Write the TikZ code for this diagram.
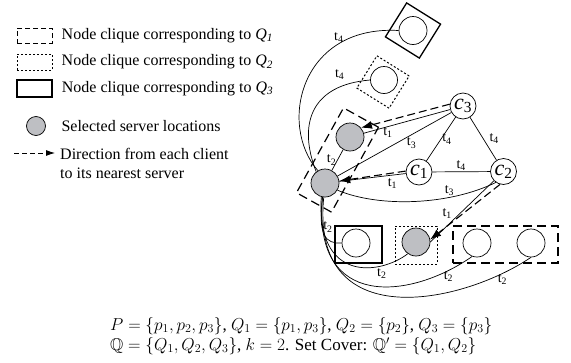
\documentclass[tikz,border=0pt]{standalone}
\usepackage{amsmath,amssymb}
\usepackage{fontspec}
\setmainfont{Liberation Serif}
\usetikzlibrary{positioning,arrows.meta,calc}
\definecolor{srvgray}{RGB}{190,191,195}
\tikzset{
    client/.style={circle, draw, line width=0.7pt, minimum size=26pt, inner sep=0pt, font=\fontsize{22}{22}\selectfont},
    spot/.style={circle, draw, line width=0.7pt, minimum size=28pt, inner sep=0pt},
    server/.style={spot, fill=srvgray},
    qone/.style={draw, line width=1.2pt, dash pattern=on 9pt off 5pt, inner sep=0pt},
    qtwo/.style={draw, line width=1pt, dash pattern=on 2pt off 2pt, inner sep=0pt},
    qthree/.style={draw, line width=1.3pt, inner sep=0pt},
    link/.style={line width=0.7pt},
    dirline/.style={line width=1.1pt, dash pattern=on 8pt off 4pt, -{Latex[length=11pt,width=8pt]}},
    lbl/.style={font=\fontsize{14}{14}\selectfont, inner sep=1pt},
    legtext/.style={font=\fontsize{16}{19}\selectfont, inner sep=0pt},
}

\begin{document}
\begin{tikzpicture}
        [x=1pt, y=1pt, node distance=9pt]

        \useasboundingbox (0,0) rectangle (571,-362);

        \node[qone, minimum width=35pt, minimum height=15pt, line width=1pt, dash pattern=on 5pt off 3pt] (lq1) at (34.5,-35.5) {};
        \node[legtext, right=of lq1] (tq1txt) {Node clique corresponding to \textit{Q}\textsubscript{\textit{1}}};
        \node[qtwo, minimum width=35pt, minimum height=16pt] (lq2) at (34.5,-62) {};
        \node[legtext, right=of lq2] (tq2txt) {Node clique corresponding to \textit{Q}\textsubscript{\textit{2}}};
        \node[qthree, minimum width=35pt, minimum height=17pt] (lq3) at (34.5,-88.5) {};
        \node[legtext, right=of lq3] (tq3txt) {Node clique corresponding to \textit{Q}\textsubscript{\textit{3}}};
        \node[server, minimum size=19pt] (lsrv) at (36,-126) {};
        \node[legtext, right=15.5pt of lsrv] (srvtxt) {Selected server locations};
        \coordinate (ldira) at (14,-153);
        \coordinate (ldirb) at (55,-153);
        \draw[dirline, line width=0.8pt, dash pattern=on 5pt off 3pt, -{Latex[length=9pt,width=6pt]}] (ldira) -- (ldirb);
        \node[legtext, align=left, anchor=west] (dirtxt) at (60,-163) {Direction from each client\\to its nearest server};

        \node[spot] (tq3) at (413,-30.5) {};
        \node[qthree, minimum size=40pt, rotate=-32] (bxtq3) at (tq3) {};
        \node[spot, minimum size=27pt] (tq2) at (384,-80) {};
        \node[qtwo, minimum size=38pt, rotate=-32] (bxtq2) at (383,-82) {};
        \node[server] (s1) at (350,-137) {};
        \node[server] (s2) at (325,-183) {};
        \node[qone, minimum width=40pt, minimum height=97pt, rotate=-29] (bxq1) at ($(s1)!0.5!(s2)$) {};
        \node[client] (c3) at (463,-106) {\textit{c}\textsubscript{3}};
        \node[client] (c1) at (419,-172) {\textit{c}\textsubscript{1}};
        \node[client] (c2) at (503.5,-171.5) {\textit{c}\textsubscript{2}};
        \node[spot] (bq3) at (356,-243) {};
        \node[qthree, minimum width=47pt, minimum height=37pt] (bxbq3) at (358.5,-244.5) {};
        \node[server] (bq2) at (416,-242) {};
        \node[qtwo, minimum width=42pt, minimum height=38pt] (bxbq2) at (416,-245) {};
        \node[spot] (bq1a) at (477,-243) {};
        \node[spot] (bq1b) at (531,-243) {};
        \node[qone, minimum width=105pt, minimum height=37pt] (bxbq1) at (505.5,-244.5) {};

        \draw[link] (c3) -- node[lbl, pos=0.72, below] {t\textsubscript{1}} (s1);
        \draw[link] (c3) -- node[lbl, pos=0.35, below=2pt] {t\textsubscript{3}} (s2);
        \draw[link] (c3) -- node[lbl, right] {t\textsubscript{4}} (c1);
        \draw[link] (c3) -- node[lbl, right=5pt] {t\textsubscript{4}} (c2);
        \draw[link] (c1) -- node[lbl, above] {t\textsubscript{4}} (c2);
        \draw[link] (c1) -- node[lbl, pos=0.2, below=2pt] {t\textsubscript{1}} (s2);
        \draw[link] (c2) -- node[lbl, pos=0.64, above left] {t\textsubscript{1}} (bq2.east);
        \draw[link] (s1) -- node[lbl, left] {t\textsubscript{2}} (s2);
        \draw[link] (c2.235) .. controls (450,-205) and (380,-208) .. node[lbl, pos=0.3, above] {t\textsubscript{3}} (s2.-30);

        \draw[link] (s2.120) .. controls (278,-125) and (300,-25) .. node[lbl, pos=0.75, above] {t\textsubscript{4}} (tq3.west);
        \draw[link] (s2.128) .. controls (298,-125) and (310,-85) .. node[lbl, pos=0.8, above=6pt] {t\textsubscript{4}} (tq2.west);
        \draw[link] (s2.260) .. controls (318,-235) and (325,-244) .. node[lbl, pos=0.35, right=0pt] {t\textsubscript{2}} (bq3.west);
        \draw[link] (s2.255) .. controls (316,-283) and (380,-275) .. node[lbl, pos=0.75, below=1pt] {t\textsubscript{2}} (bq2.235);
        \draw[link] (s2.260) .. controls (312,-310) and (410,-300) .. node[lbl, pos=0.88, below] {t\textsubscript{2}} (bq1a.250);
        \draw[link] (s2.265) .. controls (310,-335) and (460,-305) .. node[lbl, pos=0.88, below] {t\textsubscript{2}} (bq1b.south);

        \draw[dirline] (c3.172) -- (s1.40);
        \draw[dirline] (c1.176) -- (s2.8);
        \draw[dirline] (c2.255) -- (bq2.10);

        \node[anchor=west, align=left, font=\fontsize{17}{20}\selectfont, inner sep=0pt] (setcov) at (110,-336)
            {$P=\{p_1,p_2,p_3\}$, $Q_1=\{p_1,p_3\}$, $Q_2=\{p_2\}$, $Q_3=\{p_3\}$\\
             $\mathbb{Q}=\{Q_1,Q_2,Q_3\}$, $k=2$. Set Cover: $\mathbb{Q}'=\{Q_1,Q_2\}$};

    \end{tikzpicture}
\end{document}
